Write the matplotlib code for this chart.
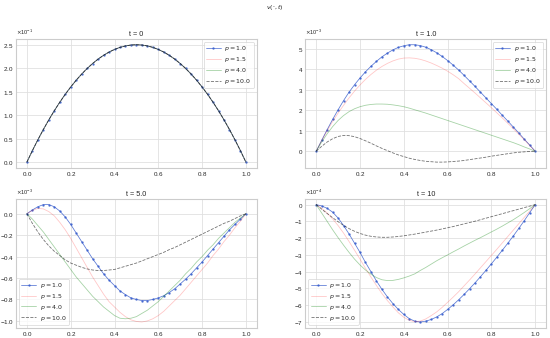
import numpy as np
import matplotlib
matplotlib.use("Agg")
import matplotlib.pyplot as plt

# ---------------- data ----------------
x = [0.0, 0.025, 0.05, 0.075, 0.1, 0.125, 0.15, 0.175, 0.2, 0.225, 0.25, 0.275, 0.3, 0.325,
     0.35, 0.375, 0.4, 0.425, 0.45, 0.475, 0.5, 0.525, 0.55, 0.575, 0.6, 0.625, 0.65, 0.675,
     0.7, 0.725, 0.75, 0.775, 0.8, 0.825, 0.85, 0.875, 0.9, 0.925, 0.95, 0.975, 1.0]

p_labels = ["$p = 1.0$", "$p = 1.5$", "$p = 4.0$", "$p = 10.0$"]
titles = ["t = 0", "t = 1.0", "t = 5.0", "t = 10"]

# t = 0 (same for all p)
v_t0 = [0, .0244, .0475, .0694, .09, .1094, .1275, .1444, .16, .1744, .1875, .1994, .21, .2194,
        .2275, .2344, .24, .2444, .2475, .2494, .25, .2494, .2475, .2444, .24, .2344, .2275,
        .2194, .21, .1994, .1875, .1744, .16, .1444, .1275, .1094, .09, .0694, .0475, .0244, 0]

# t = 1.0 (x 1e-3)
v_t1_p1 = [0, 0.53, 1.05, 1.55, 2.02, 2.47, 2.88, 3.24, 3.57, 3.87, 4.14, 4.38, 4.6, 4.78,
           4.94, 5.06, 5.14, 5.19, 5.19, 5.15, 5.07, 4.95, 4.8, 4.62, 4.42, 4.2, 3.96, 3.7,
           3.43, 3.16, 2.88, 2.6, 2.32, 2.04, 1.75, 1.47, 1.18, 0.89, 0.59, 0.3, 0]
v_t1_p15 = [0, 0.52, 1.0, 1.45, 1.86, 2.24, 2.6, 2.93, 3.23, 3.5, 3.74, 3.95, 4.13, 4.28,
            4.4, 4.49, 4.54, 4.55, 4.53, 4.48, 4.4, 4.3, 4.18, 4.05, 3.9, 3.73, 3.54, 3.3,
            3.07, 2.84, 2.6, 2.36, 2.12, 1.87, 1.62, 1.36, 1.1, 0.83, 0.56, 0.28, 0]
v_t1_p4 = [0, 0.45, 0.85, 1.2, 1.5, 1.74, 1.93, 2.07, 2.17, 2.24, 2.28, 2.3, 2.3, 2.29,
           2.26, 2.22, 2.17, 2.1, 2.02, 1.94, 1.86, 1.77, 1.68, 1.59, 1.5, 1.41, 1.32, 1.23,
           1.14, 1.05, 0.96, 0.87, 0.78, 0.69, 0.6, 0.51, 0.42, 0.32, 0.21, 0.11, 0]
v_t1_p10 = [0, 0.24, 0.45, 0.61, 0.72, 0.77, 0.76, 0.71, 0.62, 0.51, 0.39, 0.26, 0.14, 0.03,
            -0.08, -0.18, -0.26, -0.34, -0.4, -0.45, -0.49, -0.51, -0.53, -0.53, -0.52, -0.5,
            -0.48, -0.45, -0.41, -0.37, -0.33, -0.29, -0.24, -0.2, -0.16, -0.12, -0.08, -0.05,
            -0.03, -0.01, 0]

# t = 5.0 (x 1e-3)
v_t5_p1 = [0, 0.035, 0.065, 0.085, 0.085, 0.065, 0.025, -0.03, -0.1, -0.18, -0.26, -0.34,
           -0.42, -0.49, -0.56, -0.62, -0.67, -0.72, -0.755, -0.785, -0.8, -0.81, -0.81, -0.8,
           -0.785, -0.765, -0.735, -0.7, -0.655, -0.61, -0.56, -0.505, -0.45, -0.39, -0.33,
           -0.27, -0.21, -0.15, -0.1, -0.05, 0]
v_t5_p15 = [0, 0.03, 0.05, 0.045, 0.02, -0.02, -0.08, -0.15, -0.23, -0.32, -0.41, -0.5, -0.59,
            -0.67, -0.75, -0.82, -0.87, -0.92, -0.96, -0.99, -1.005, -1.01, -1.0, -0.98, -0.95,
            -0.91, -0.86, -0.81, -0.76, -0.7, -0.64, -0.58, -0.52, -0.46, -0.39, -0.33, -0.26,
            -0.2, -0.13, -0.07, 0]
v_t5_p4 = [0, -0.05, -0.11, -0.17, -0.24, -0.31, -0.38, -0.45, -0.52, -0.59, -0.65, -0.71,
           -0.77, -0.82, -0.87, -0.91, -0.95, -0.975, -0.98, -0.975, -0.96, -0.93, -0.9, -0.86,
           -0.82, -0.77, -0.72, -0.67, -0.62, -0.56, -0.51, -0.45, -0.4, -0.34, -0.29, -0.23,
           -0.18, -0.13, -0.08, -0.04, 0]
v_t5_p10 = [0, -0.09, -0.17, -0.24, -0.3, -0.35, -0.39, -0.43, -0.46, -0.48, -0.5, -0.515,
            -0.525, -0.53, -0.53, -0.525, -0.52, -0.505, -0.49, -0.475, -0.46, -0.44, -0.42,
            -0.4, -0.38, -0.36, -0.335, -0.315, -0.29, -0.265, -0.24, -0.215, -0.19, -0.165,
            -0.14, -0.115, -0.09, -0.07, -0.045, -0.02, 0]

# t = 10 (x 1e-4)
v_t10_p1 = [0, -0.08, -0.22, -0.45, -0.8, -1.25, -1.75, -2.3, -2.85, -3.45, -4.0, -4.55, -5.05,
            -5.5, -5.9, -6.25, -6.55, -6.8, -6.95, -7.0, -6.95, -6.85, -6.7, -6.5, -6.25, -5.98,
            -5.68, -5.36, -5.02, -4.67, -4.3, -3.92, -3.53, -3.13, -2.72, -2.3, -1.87, -1.42,
            -0.96, -0.48, 0]
v_t10_p15 = [0, -0.22, -0.5, -0.85, -1.25, -1.7, -2.2, -2.72, -3.25, -3.8, -4.32, -4.82, -5.3,
             -5.72, -6.1, -6.45, -6.72, -6.9, -6.98, -6.95, -6.82, -6.62, -6.4, -6.13, -5.83,
             -5.52, -5.2, -4.85, -4.5, -4.14, -3.77, -3.4, -3.03, -2.66, -2.28, -1.9, -1.52,
             -1.14, -0.76, -0.38, 0]
v_t10_p4 = [0, -0.5, -1.0, -1.5, -1.97, -2.42, -2.85, -3.25, -3.6, -3.9, -4.15, -4.35, -4.48,
            -4.53, -4.52, -4.46, -4.37, -4.26, -4.13, -3.93, -3.75, -3.55, -3.35, -3.17, -3.0,
            -2.82, -2.65, -2.47, -2.3, -2.13, -1.97, -1.8, -1.63, -1.46, -1.28, -1.09, -0.9,
            -0.69, -0.47, -0.24, 0]
v_t10_p10 = [0, -0.27, -0.53, -0.78, -1.02, -1.24, -1.43, -1.59, -1.72, -1.82, -1.89, -1.93,
             -1.95, -1.95, -1.93, -1.9, -1.86, -1.81, -1.76, -1.7, -1.64, -1.58, -1.52, -1.45,
             -1.38, -1.31, -1.23, -1.15, -1.07, -0.99, -0.9, -0.81, -0.72, -0.63, -0.54, -0.45,
             -0.36, -0.27, -0.18, -0.09, 0]

panels = [
    ([v_t0, v_t0, v_t0, v_t0], 1.0, "upper right"),
    ([v_t1_p1, v_t1_p15, v_t1_p4, v_t1_p10], 1e-3, "upper right"),
    ([v_t5_p1, v_t5_p15, v_t5_p4, v_t5_p10], 1e-3, "lower left"),
    ([v_t10_p1, v_t10_p15, v_t10_p4, v_t10_p10], 1e-4, "lower left"),
]

# ---------------- style ----------------
plt.style.use("seaborn-v0_8-whitegrid")
plt.rcParams["axes.formatter.use_mathtext"] = True
FS = 4.5
plt.rcParams["font.size"] = FS

styles = [
    dict(color="#3a5fcd", linestyle="-", marker=".", markersize=1.4, linewidth=0.55, alpha=0.85),
    dict(color="red", linestyle="-", linewidth=0.6, alpha=0.22),
    dict(color="green", linestyle="-", linewidth=0.6, alpha=0.35),
    dict(color="black", linestyle="--", linewidth=0.6, alpha=0.55),
]

fig = plt.figure(figsize=(5.5, 3.38), dpi=100)
lefts = [0.029, 0.555]
bottoms = [0.503, 0.03]
w = 0.438
h = 0.382

xa = np.array(x)
for i, (series, scale, loc) in enumerate(panels):
    r, c = divmod(i, 2)
    ax = fig.add_axes([lefts[c], bottoms[r], w, h])
    for vals, lab, st in zip(series, p_labels, styles):
        ax.plot(xa, np.array(vals) * scale, label=lab, **st)
    ax.set_title(titles[i], fontsize=FS + 0.7, pad=2, color="0.15")
    ax.ticklabel_format(axis="y", style="sci", scilimits=(0, 0))
    ax.yaxis.get_offset_text().set_fontsize(FS - 0.5)
    ax.tick_params(labelsize=FS, pad=1.5, length=0, colors="0.15")
    ax.set_xticks([0.0, 0.2, 0.4, 0.6, 0.8, 1.0])
    ax.grid(True, color="0.88", linewidth=0.6)
    for s in ax.spines.values():
        s.set_color("0.8")
        s.set_linewidth(0.8)
    leg = ax.legend(loc=loc, fontsize=FS, frameon=True, handlelength=2.4,
                    borderpad=0.35, labelspacing=0.3, handletextpad=0.6)
    leg.get_frame().set_linewidth(0.5)

fig.suptitle(r"$v(\cdot, t)$", fontsize=FS, y=0.99, color="0.15")
fig.savefig("out.png", dpi=100)
